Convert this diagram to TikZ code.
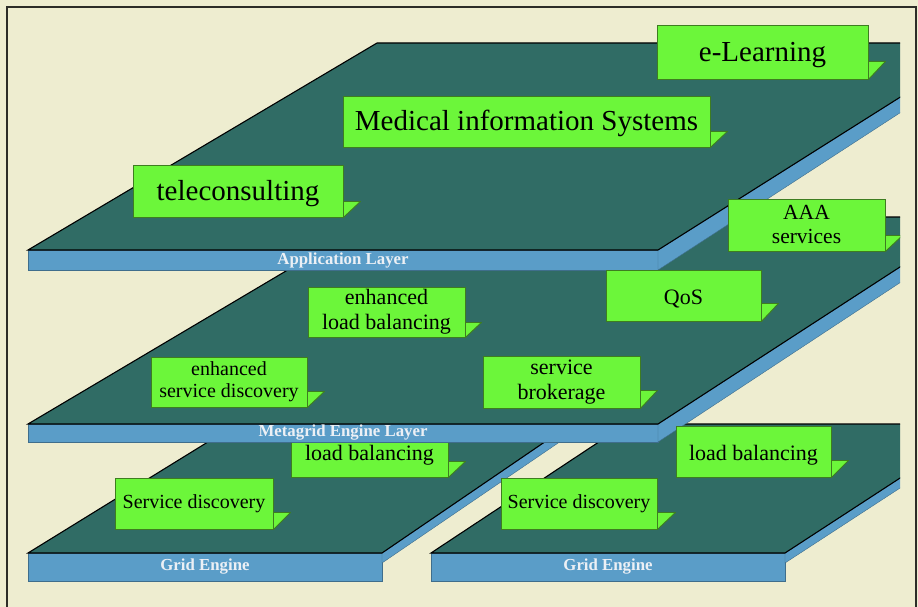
\documentclass[tikz,border=0pt]{standalone}
\usepackage{fontspec}
\setmainfont{Liberation Serif}
\definecolor{cream}{RGB}{238,237,208}
\definecolor{plate}{RGB}{48,108,101}
\definecolor{edgeblue}{RGB}{90,157,200}
\definecolor{boxgreen}{RGB}{108,246,58}
\definecolor{boxline}{RGB}{62,125,32}
\definecolor{framecol}{RGB}{45,45,40}
\definecolor{labelwhite}{RGB}{236,240,245}
\begin{document}
\begin{tikzpicture}[x=1pt,y=-1pt,
  topface/.style={fill=plate, draw=black, line width=1.1pt, line join=miter},
  blueface/.style={fill=edgeblue, draw=edgeblue!70!black, line width=0.4pt},
  gbox/.style={draw=boxline, fill=boxgreen, line width=0.9pt, inner sep=0pt, align=center, text=black},
  tabshape/.style={draw=boxline, fill=boxgreen, line width=0.9pt, line join=round},
  plabel/.style={text=labelwhite, font=\fontsize{16.8}{18}\selectfont\bfseries, inner sep=0pt},
  bigtxt/.style={font=\fontsize{29}{32}\selectfont, text height=20pt, text depth=1pt},
  midone/.style={font=\fontsize{22}{25}\selectfont, text height=17pt, text depth=0pt},
  midtxt/.style={font=\fontsize{22}{25}\selectfont},
  smalltxt/.style={font=\fontsize{20}{22.5}\selectfont}
]
\fill[cream] (0,0) rectangle (918,607);
\useasboundingbox (0,0) rectangle (918,607);

\begin{scope}
\clip (0,0) rectangle (900,607);

% ---- left grid engine plate
\draw[blueface] (28,553) rectangle (382,581);
\draw[blueface] (382,553) -- (571,424) -- (586,424) -- (382,563) -- cycle;
\draw[topface] (28,553) -- (237,424) -- (571,424) -- (382,553) -- cycle;
\node[plabel] (gl) at (205,567) {Grid Engine};

% ---- right grid engine plate
\draw[blueface] (431,553) rectangle (785,581);
\draw[blueface] (785,553) -- (983,424) -- (983,434) -- (785,563) -- cycle;
\draw[topface] (431,553) -- (626,424) -- (983,424) -- (785,553) -- cycle;
\node[plabel] (gr) at (608,567) {Grid Engine};

% ---- boxes on grid plates
\node[gbox, smalltxt, minimum width=158pt, minimum height=51pt] (sdL) at (194,503.5) {Service discovery};
\draw[tabshape] (sdL.south east) -- ++(0,-17) -- ++(17,0) -- cycle;
\node[gbox, midone, minimum width=157pt, minimum height=50pt] (lbL) at (369.5,452) {load balancing};
\draw[tabshape] (lbL.south east) -- ++(0,-16) -- ++(17,0) -- cycle;
\node[gbox, smalltxt, minimum width=156pt, minimum height=51pt] (sdR) at (579,503.5) {Service discovery};
\draw[tabshape] (sdR.south east) -- ++(0,-17) -- ++(18,0) -- cycle;

% ---- metagrid engine layer
\draw[blueface] (28,424) rectangle (658,442);
\draw[blueface] (658,424) -- (977,217) -- (977,232) -- (658,442) -- cycle;
\draw[topface] (28,424) -- (377,217) -- (977,217) -- (658,424) -- cycle;
\node[plabel] (ml) at (343,433) {Metagrid Engine Layer};

\node[gbox, midone, minimum width=155pt, minimum height=51pt] (lbR) at (753.5,451.5) {load balancing};
\draw[tabshape] (lbR.south east) -- ++(0,-17) -- ++(17,0) -- cycle;

% ---- application layer
\draw[blueface] (28,250) rectangle (658,270);
\draw[blueface] (658,250) -- (986,43) -- (986,57) -- (658,270) -- cycle;
\draw[topface] (28,250) -- (377,43) -- (986,43) -- (658,250) -- cycle;
\node[plabel] (al) at (343,260) {Application Layer};

% ---- application boxes
\node[gbox, bigtxt, minimum width=210pt, minimum height=52pt] (tele) at (238,191) {teleconsulting};
\draw[tabshape] (tele.south east) -- ++(0,-16) -- ++(17,0) -- cycle;
\node[gbox, bigtxt, minimum width=367pt, minimum height=51pt] (med) at (526.5,121.5) {Medical information Systems};
\draw[tabshape] (med.south east) -- ++(0,-16) -- ++(17,0) -- cycle;
\node[gbox, bigtxt, minimum width=211pt, minimum height=54pt] (elearn) at (762.5,52) {e-Learning};
\draw[tabshape] (elearn.south east) -- ++(0,-18) -- ++(17,0) -- cycle;

% ---- metagrid boxes
\node[gbox, font=\fontsize{21.5}{24}\selectfont, minimum width=157pt, minimum height=52pt] (aaa) at (806.5,225) {AAA\\services};
\draw[tabshape] (aaa.south east) -- ++(0,-16) -- ++(17,0) -- cycle;
\node[gbox, midone, minimum width=155pt, minimum height=51pt] (qos) at (683.5,295.5) {QoS};
\draw[tabshape] (qos.south east) -- ++(0,-18) -- ++(17,0) -- cycle;
\node[gbox, midtxt, minimum width=157pt, minimum height=50pt] (elb) at (386.5,312) {enhanced\\load balancing};
\draw[tabshape] (elb.south east) -- ++(0,-15) -- ++(16,0) -- cycle;
\node[gbox, font=\fontsize{20}{22}\selectfont, minimum width=156pt, minimum height=50pt] (esd) at (229,382) {enhanced\\service discovery};
\draw[tabshape] (esd.south east) -- ++(0,-16) -- ++(17,0) -- cycle;
\node[gbox, midtxt, minimum width=157pt, minimum height=52pt] (sbrok) at (561.5,382) {service\\brokerage};
\draw[tabshape] (sbrok.south east) -- ++(0,-18) -- ++(17,0) -- cycle;
\end{scope}

% ---- frame
\draw[framecol, line width=2pt] (7,607) -- (7,7) -- (916,7) -- (916,607);
\end{tikzpicture}
\end{document}
